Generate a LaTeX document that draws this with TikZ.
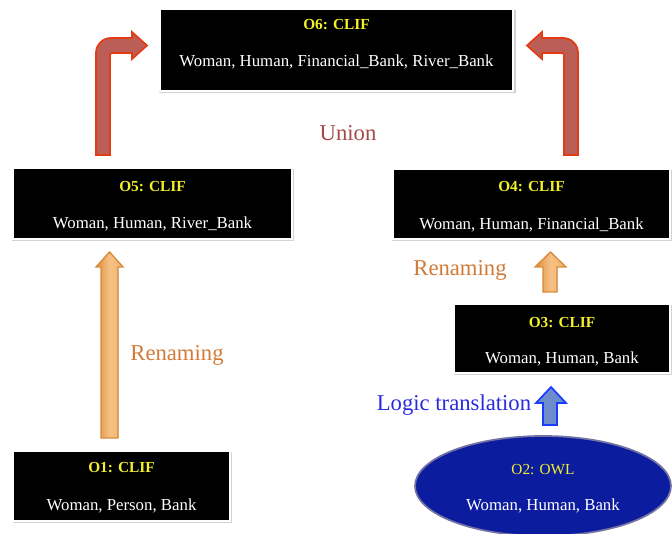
\documentclass[tikz,border=0pt]{standalone}
\usepackage{fontspec}
\setmainfont{Liberation Serif}
\usetikzlibrary{calc,shadows,shapes.geometric}
\definecolor{ttl}{HTML}{F2F02A}
\definecolor{unioncol}{HTML}{A84848}
\definecolor{rencol}{HTML}{D27A36}
\definecolor{logcol}{HTML}{2A2AE0}
\definecolor{redfill}{HTML}{BC5E58}
\definecolor{redline}{HTML}{E23C14}
\definecolor{orfill}{HTML}{F2A651}
\definecolor{orline}{HTML}{D98A3A}
\definecolor{blfill}{HTML}{6C8CCC}
\definecolor{blline}{HTML}{1A3CFF}
\definecolor{owlfill}{HTML}{0C1C9E}
\definecolor{owlline}{HTML}{7474A4}
\tikzset{
  box/.style={rectangle, fill=black, draw=white, line width=1.2pt, inner sep=0pt, outer sep=0pt,
    general shadow={shadow xshift=0.6pt, shadow yshift=-1.4pt, shadow scale=1.012, fill=black!35, opacity=0.5}},
  owl/.style={ellipse, fill=owlfill, draw=owlline, line width=1.3pt, inner sep=0pt},
  ttlt/.style={text=ttl, font=\fontsize{11.5}{13}\selectfont\bfseries, inner sep=0pt},
  cont/.style={text=white, font=\fontsize{12.6}{14}\selectfont, inner sep=0pt},
  lbl/.style={font=\fontsize{17}{19}\selectfont, inner sep=0pt},
  redarrow/.style={fill=redfill, draw=redline, line width=1.3pt, line join=miter},
  orarrow/.style={left color=orline!85!orfill, right color=orfill!85!white, middle color=orfill!70!white, draw=orline, line width=1pt, line join=miter},
  blarrow/.style={fill=blfill, draw=blline, line width=1.3pt, line join=miter}
}
\begin{document}
\begin{tikzpicture}[x=0.75pt,y=-0.75pt]
\useasboundingbox (0,0) rectangle (672,534);
% boxes
\node[box, minimum width=264.75pt, minimum height=61.5pt] (o6) at (336.5,50) {};
\node[box, minimum width=209.25pt, minimum height=53.25pt] (o5) at (152.5,203.5) {};
\node[box, minimum width=207.75pt, minimum height=52.5pt] (o4) at (531.5,204) {};
\node[box, minimum width=162pt, minimum height=51.75pt] (o3) at (562,338.5) {};
\node[box, minimum width=162.75pt, minimum height=52.5pt] (o1) at (121.5,486) {};
\node[owl, minimum width=192pt, minimum height=75pt] (o2) at (543,486) {};
% texts
\node[ttlt] (o6t) at ($(o6.center)+(0,-25)$) {O6: CLIF};
\node[cont] (o6c) at ($(o6.center)+(0,12)$) {Woman, Human, Financial\_Bank, River\_Bank};
\node[ttlt] (o5t) at ($(o5.center)+(0,-17)$) {O5: CLIF};
\node[cont] (o5c) at ($(o5.center)+(0,20)$) {Woman, Human, River\_Bank};
\node[ttlt] (o4t) at ($(o4.center)+(0,-17)$) {O4: CLIF};
\node[cont] (o4c) at ($(o4.center)+(0,21)$) {Woman, Human, Financial\_Bank};
\node[ttlt] (o3t) at ($(o3.center)+(0,-16)$) {O3: CLIF};
\node[cont] (o3c) at ($(o3.center)+(0,20.5)$) {Woman, Human, Bank};
\node[ttlt] (o1t) at ($(o1.center)+(0,-18)$) {O1: CLIF};
\node[cont] (o1c) at ($(o1.center)+(0,20)$) {Woman, Person, Bank};
\node[ttlt, font=\fontsize{11.5}{13}\selectfont] (o2t) at ($(o2.center)+(0,-16)$) {O2: OWL};
\node[cont] (o2c) at ($(o2.center)+(0,20)$) {Woman, Human, Bank};
% labels
\node[lbl, text=unioncol] (union) at (348,133) {Union};
\node[lbl, text=rencol] (ren1) at (177,355) {Renaming};
\node[lbl, text=rencol] (ren2) at (460,270) {Renaming};
\node[lbl, text=logcol] (logt) at (454,405) {Logic translation};
% red bent arrows
\filldraw[redarrow] (96,155) -- (96,53) .. controls (96,44.7) and (102.7,38) .. (111,38)
  -- (132,38) -- (132,32) -- (147,45.5) -- (132,59) -- (132,53) -- (112,53) .. controls (110.9,53) and (110,53.9) .. (110,55) -- (110,155) -- cycle;
\filldraw[redarrow] (578,155) -- (578,53) .. controls (578,44.7) and (571.3,38) .. (563,38)
  -- (542,38) -- (542,32) -- (527,45.5) -- (542,59) -- (542,53) -- (562,53) .. controls (563.1,53) and (564,53.9) .. (564,55) -- (564,155) -- cycle;
% orange arrows
\filldraw[orarrow] (101,438) -- (101,267) -- (96,267) -- (109.5,252) -- (123,267) -- (118,267) -- (118,438) -- cycle;
\filldraw[orarrow] (543,292) -- (543,267) -- (535,267) -- (550.5,252) -- (566,267) -- (557,267) -- (557,292) -- cycle;
% blue arrow
\filldraw[blarrow] (543,425) -- (543,403) -- (536,403) -- (551,387) -- (566,403) -- (557,403) -- (557,425) -- cycle;
\end{tikzpicture}
\end{document}
